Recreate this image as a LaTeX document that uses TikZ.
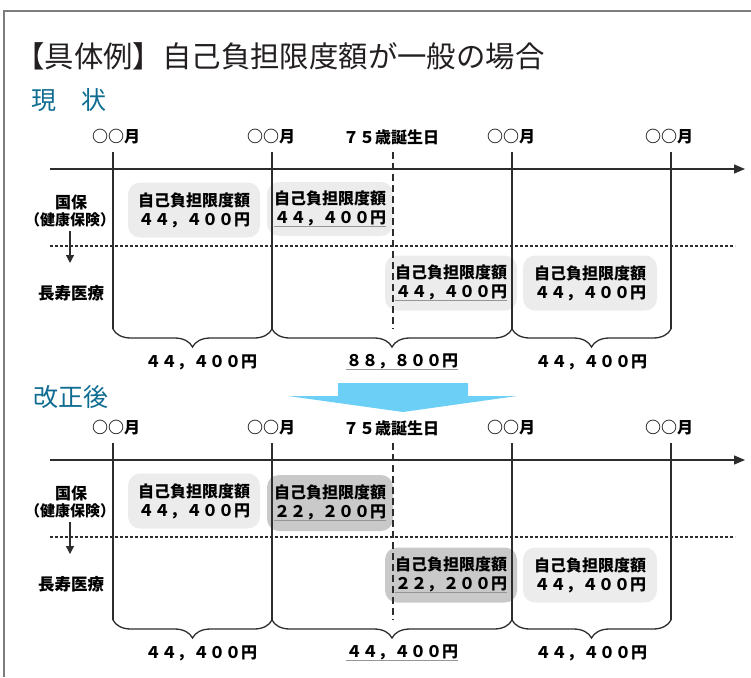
\documentclass[tikz,border=0pt]{standalone}
\usepackage{fontspec}
\setmainfont{Noto Sans CJK JP}
\usetikzlibrary{arrows.meta,decorations.pathreplacing}
\definecolor{tealtxt}{RGB}{14,108,146}
\definecolor{titlegray}{RGB}{35,31,32}
\definecolor{boxlight}{RGB}{236,236,236}
\definecolor{boxdark}{RGB}{201,201,201}
\definecolor{arrowblue}{RGB}{108,207,246}
\definecolor{linegray}{RGB}{45,45,45}
\definecolor{ulgray}{RGB}{150,150,150}
\definecolor{framegray}{RGB}{125,125,125}
\newcommand\grayul[1]{\setbox0\hbox{#1}\rlap{\color{ulgray}\rule[-3.5pt]{\wd0}{1.3pt}}\box0}
\newcommand\kenpo{\makebox[8pt][r]{（}健康保険\makebox[8pt][l]{）}}
\begin{document}
\begin{tikzpicture}[x=1pt,y=-1pt,
  lbl/.style={inner sep=0pt, font=\fontsize{16}{19}\selectfont\bfseries, text=black},
  sidelbl/.style={inner sep=0pt, font=\fontsize{16}{18}\selectfont\bfseries, text=black},
  box/.style={rounded corners=12pt, inner sep=0pt, align=center, font=\fontsize{16}{19}\selectfont\bfseries, text=black},
  lightbox/.style={box, fill=boxlight},
  darkbox/.style={box, fill=boxdark},
  vline/.style={draw=linegray, line width=1.3pt},
  dvline/.style={draw=linegray, line width=1.3pt, dash pattern=on 7pt off 4pt},
  hdash/.style={draw=linegray, line width=1.1pt, dash pattern=on 3pt off 2pt},
  axis/.style={draw=linegray, line width=1.4pt, -{Triangle[length=11pt,width=9pt]}},
  dnarrow/.style={draw=linegray, line width=1.2pt, -{Triangle[length=8pt,width=8pt]}},
  brc/.style={draw=linegray, line width=1.3pt, decorate, decoration={brace, mirror, amplitude=18pt}},
  head/.style={anchor=west, inner sep=0pt, font=\fontsize{25}{27}\selectfont, text=tealtxt}
]
\useasboundingbox (0,0) rectangle (751,677);
% frame
\draw[framegray, line width=1.5pt] (4,677) -- (4,11) -- (751,11);
% title
\node[anchor=west, inner sep=0pt, font=\fontsize{29.4}{31}\selectfont, text=titlegray] (title) at (15,56) {【具体例】自己負担限度額が一般の場合};
\node[head] (now) at (31,100) {現　状};
\node[head] (after) at (33,397) {改正後};

% ===== upper timeline =====
\node[lightbox, minimum width=132pt, minimum height=55pt] (ub1) at (194,210) {自己負担限度額\\４４，４００円};
\node[lightbox, minimum width=126pt, minimum height=54pt] (ub2) at (330,209) {自己負担限度額\\\grayul{４４，４００円}};
\node[lightbox, minimum width=132pt, minimum height=55pt] (ub3) at (451,283) {自己負担限度額\\\grayul{４４，４００円}};
\node[lightbox, minimum width=134pt, minimum height=55pt] (ub4) at (590,283) {自己負担限度額\\４４，４００円};

\node[lbl] (um1) at (116,137) {○○月};
\node[lbl] (um2) at (271,137) {○○月};
\node[lbl] (ubd) at (391,137) {７５歳誕生日};
\node[lbl] (um3) at (511,137) {○○月};
\node[lbl] (um4) at (669,137) {○○月};

\coordinate (ua0) at (50,169); \coordinate (ua1) at (745,169);
\draw[axis] (ua0) -- (ua1);
\coordinate (ud0) at (50,246); \coordinate (ud1) at (735,246);
\draw[hdash] (ud0) -- (ud1);

\coordinate (uv1t) at (113,152); \coordinate (uv1b) at (113,329);
\coordinate (uv2t) at (272,152); \coordinate (uv2b) at (272,329);
\coordinate (uv3t) at (512,152); \coordinate (uv3b) at (512,329);
\coordinate (uv4t) at (671,152); \coordinate (uv4b) at (671,329);
\coordinate (uvdt) at (393,152); \coordinate (uvdb) at (393,329);
\draw[vline] (uv1t) -- (uv1b);
\draw[vline] (uv2t) -- (uv2b);
\draw[vline] (uv3t) -- (uv3b);
\draw[vline] (uv4t) -- (uv4b);
\draw[dvline] (uvdt) -- (uvdb);
\draw[brc] (uv1b) -- (uv2b);
\draw[brc] (uv2b) -- (uv3b);
\draw[brc] (uv3b) -- (uv4b);

\node[sidelbl] (uk) at (71,202) {国保};
\node[sidelbl, font=\fontsize{15}{17}\selectfont\bfseries] (ukk) at (70,220) {\kenpo};
\coordinate (uar0) at (70,231); \coordinate (uar1) at (70,263);
\draw[dnarrow] (uar0) -- (uar1);
\node[sidelbl, font=\fontsize{16.5}{18}\selectfont\bfseries] (uc) at (71,293) {長寿医療};

\node[lbl] (us1) at (201,362) {４４，４００円};
\node[lbl] (us2) at (402,362) {\grayul{８８，８００円}};
\node[lbl] (us3) at (591,362) {４４，４００円};

% blue arrow
\fill[arrowblue] (338,383) -- (468,383) -- (468,396) -- (517,396) -- (403,412) -- (288,396) -- (338,396) -- cycle;

% ===== lower timeline =====
\begin{scope}[shift={(0,291)}]
\node[lightbox, minimum width=132pt, minimum height=55pt] (lb1) at (194,210) {自己負担限度額\\４４，４００円};
\node[darkbox, minimum width=126pt, minimum height=56pt] (lb2) at (330,212) {自己負担限度額\\\grayul{２２，２００円}};
\node[darkbox, minimum width=132pt, minimum height=55pt] (lb3) at (451,284) {自己負担限度額\\\grayul{２２，２００円}};
\node[lightbox, minimum width=134pt, minimum height=55pt] (lb4) at (590,284) {自己負担限度額\\４４，４００円};

\node[lbl] (lm1) at (116,137) {○○月};
\node[lbl] (lm2) at (271,137) {○○月};
\node[lbl] (lbd) at (391,137) {７５歳誕生日};
\node[lbl] (lm3) at (511,137) {○○月};
\node[lbl] (lm4) at (669,137) {○○月};

\coordinate (la0) at (50,169); \coordinate (la1) at (745,169);
\draw[axis] (la0) -- (la1);
\coordinate (ld0) at (50,246); \coordinate (ld1) at (735,246);
\draw[hdash] (ld0) -- (ld1);

\coordinate (lv1t) at (113,152); \coordinate (lv1b) at (113,329);
\coordinate (lv2t) at (272,152); \coordinate (lv2b) at (272,329);
\coordinate (lv3t) at (512,152); \coordinate (lv3b) at (512,329);
\coordinate (lv4t) at (671,152); \coordinate (lv4b) at (671,329);
\coordinate (lvdt) at (393,152); \coordinate (lvdb) at (393,329);
\draw[vline] (lv1t) -- (lv1b);
\draw[vline] (lv2t) -- (lv2b);
\draw[vline] (lv3t) -- (lv3b);
\draw[vline] (lv4t) -- (lv4b);
\draw[dvline] (lvdt) -- (lvdb);
\draw[brc] (lv1b) -- (lv2b);
\draw[brc] (lv2b) -- (lv3b);
\draw[brc] (lv3b) -- (lv4b);

\node[sidelbl] (lk) at (71,202) {国保};
\node[sidelbl, font=\fontsize{15}{17}\selectfont\bfseries] (lkk) at (70,220) {\kenpo};
\coordinate (lar0) at (70,231); \coordinate (lar1) at (70,263);
\draw[dnarrow] (lar0) -- (lar1);
\node[sidelbl, font=\fontsize{16.5}{18}\selectfont\bfseries] (lc) at (71,293) {長寿医療};

\node[lbl] (ls1) at (201,362) {４４，４００円};
\node[lbl] (ls2) at (402,362) {\grayul{４４，４００円}};
\node[lbl] (ls3) at (591,362) {４４，４００円};
\end{scope}
\end{tikzpicture}
\end{document}
